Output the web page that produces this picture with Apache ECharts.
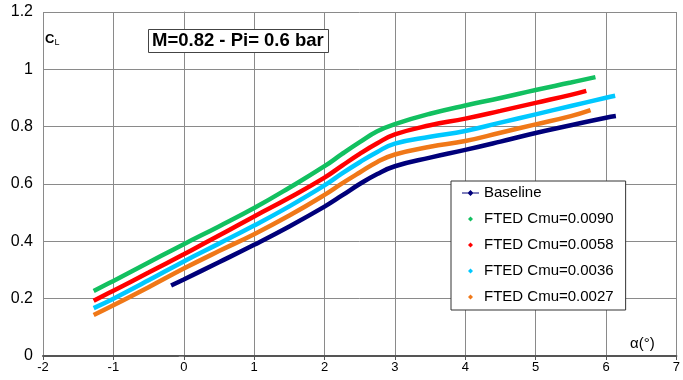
<!DOCTYPE html>
<html>
<head>
<meta charset="utf-8">
<script src="https://cdn.jsdelivr.net/npm/echarts@6/dist/echarts.min.js"></script>
<style>html,body{margin:0;padding:0;background:#fff}#c{width:683px;height:380px}</style>
</head>
<body>
<div id="c"></div>
<script>
var xTicks = [-2, -1, 0, 1, 2, 3, 4, 5, 6, 7];
var yTicks = [0, 0.2, 0.4, 0.6, 0.8, 1, 1.2];
var seriesNames = ['Baseline', 'FTED Cmu=0.0090', 'FTED Cmu=0.0058', 'FTED Cmu=0.0036', 'FTED Cmu=0.0027'];

var alphaBase = [-0.18, 0, 0.5, 1, 1.5, 2, 2.25, 2.5, 2.75, 3, 3.5, 4, 4.5, 5, 5.5, 6, 6.14];
var clBase    = [0.246, 0.267, 0.327, 0.388, 0.452, 0.521, 0.56, 0.6, 0.635, 0.662, 0.692, 0.719, 0.748, 0.778, 0.805, 0.831, 0.837];

var alpha0090 = [-1.28, -1, -0.5, 0, 0.5, 1, 1.5, 2, 2.25, 2.5, 2.75, 3, 3.5, 4, 4.5, 5, 5.5, 5.85];
var cl0090    = [0.227, 0.262, 0.326, 0.39, 0.452, 0.516, 0.587, 0.662, 0.705, 0.746, 0.784, 0.809, 0.845, 0.874, 0.9, 0.928, 0.954, 0.973];

var alpha0058 = [-1.28, -1, -0.5, 0, 0.5, 1, 1.5, 2, 2.25, 2.5, 2.75, 3, 3.5, 4, 4.5, 5, 5.5, 5.72];
var cl0058    = [0.193, 0.228, 0.291, 0.355, 0.42, 0.487, 0.552, 0.622, 0.664, 0.705, 0.742, 0.773, 0.805, 0.828, 0.855, 0.883, 0.911, 0.925];

var alpha0036 = [-1.28, -1, -0.5, 0, 0.5, 1, 1.5, 2, 2.25, 2.5, 2.75, 3, 3.5, 4, 4.5, 5, 5.5, 6, 6.13];
var cl0036    = [0.167, 0.2, 0.264, 0.33, 0.392, 0.455, 0.522, 0.595, 0.637, 0.676, 0.712, 0.741, 0.765, 0.785, 0.814, 0.843, 0.872, 0.901, 0.908];

var alpha0027 = [-1.28, -1, -0.5, 0, 0.5, 1, 1.5, 2, 2.25, 2.5, 2.75, 3, 3.5, 4, 4.5, 5, 5.5, 5.78];
var cl0027    = [0.143, 0.177, 0.24, 0.305, 0.366, 0.425, 0.49, 0.562, 0.602, 0.64, 0.677, 0.703, 0.73, 0.75, 0.779, 0.808, 0.837, 0.858];

function pairs(a, b) { return a.map(function (v, i) { return [v, b[i]]; }); }

var colors = ['#00007A', '#12C060', '#FF0000', '#00C8FF', '#F07818'];
var allData = [
  pairs(alphaBase, clBase),
  pairs(alpha0090, cl0090),
  pairs(alpha0058, cl0058),
  pairs(alpha0036, cl0036),
  pairs(alpha0027, cl0027)
];

var font = 'Arial, "Liberation Sans", sans-serif';
var iconBase = 'path://M0,3 L17,3 L17,4 L0,4 Z M8.5,0.5 L11.5,3.5 L8.5,6.5 L5.5,3.5 Z';
var iconDot = 'path://M0,0 M17,7 M8.5,1 L11,3.5 L8.5,6 L6,3.5 Z';

var chart = echarts.init(document.getElementById('c'), null, { renderer: 'canvas' });
chart.setOption({
  animation: false,
  backgroundColor: '#ffffff',
  grid: { left: 43, right: 0, top: 12, bottom: 24, containLabel: false },
  xAxis: {
    type: 'value', min: xTicks[0], max: xTicks[xTicks.length - 1], interval: 1,
    axisLine: { show: true, onZero: false, lineStyle: { color: '#555', width: 2 } },
    axisTick: { show: true, inside: false, length: 4, lineStyle: { color: '#555' } },
    axisLabel: { color: '#000', fontFamily: font, fontSize: 13, margin: 5 },
    splitLine: { show: true, lineStyle: { color: '#8a8a8a', width: 1 } }
  },
  yAxis: {
    type: 'value', min: yTicks[0], max: yTicks[yTicks.length - 1], interval: 0.2,
    axisLine: { show: true, lineStyle: { color: '#8a8a8a', width: 1 } },
    axisTick: { show: true, inside: false, length: 5, lineStyle: { color: '#8a8a8a' } },
    axisLabel: { color: '#000', fontFamily: font, fontSize: 16, margin: 10,
      formatter: function (v) { return String(Math.round(v * 10) / 10); } },
    splitLine: { show: true, lineStyle: { color: '#8a8a8a', width: 1 } }
  },
  legend: {
    orient: 'vertical', left: 451, top: 181,
    padding: [4, 12, 5, 11], itemGap: 10, itemWidth: 17, itemHeight: 7,
    backgroundColor: '#fff', borderColor: '#333', borderWidth: 1, borderRadius: 0,
    textStyle: { color: '#000', fontFamily: font, fontSize: 15, lineHeight: 16 },
    data: seriesNames.map(function (n, i) { return { name: n, icon: i === 0 ? iconBase : iconDot }; })
  },
  graphic: [
    { type: 'rect', left: 148, top: 29, shape: { width: 180, height: 23 },
      style: { fill: '#fff', stroke: '#444', lineWidth: 1 }, z: 10 },
    { type: 'text', x: 152, y: 41, z: 11,
      style: { text: 'M=0.82 - Pi= 0.6 bar', fill: '#000', font: 'bold 18.5px ' + font, verticalAlign: 'middle' } },
    { type: 'text', left: 45, top: 33, z: 11,
      style: { text: '{c|C}{l|L}', rich: { c: { fontSize: 13, fontWeight: 'bold', fontFamily: font, fill: '#000' }, l: { fontSize: 9, fontFamily: font, fill: '#000', padding: [7, 0, 0, 0] } } } },
    { type: 'text', left: 630, top: 336, z: 11,
      style: { text: 'α(°)', fill: '#000', font: '15px ' + font } }
  ],
  series: seriesNames.map(function (n, i) {
    return {
      name: n, type: 'line', data: allData[i], smooth: 0.45, showSymbol: false,
      color: colors[i],
      lineStyle: { color: colors[i], width: 4.5 },
      z: 5 - i
    };
  })
});
</script>
</body>
</html>
